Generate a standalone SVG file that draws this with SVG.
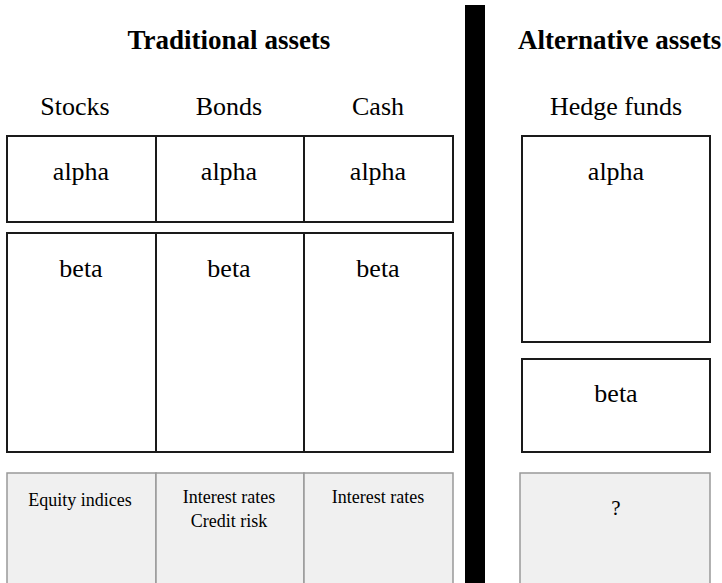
<svg xmlns="http://www.w3.org/2000/svg" width="722" height="583" viewBox="0 0 722 583">
<style>
text{font-family:"Liberation Serif","Times New Roman",serif;fill:#000;text-anchor:middle}
.title{font-size:27px;font-weight:bold}
.lbl{font-size:26px}
.sm{font-size:18px}
.box{fill:#fff;stroke:#1a1a1a;stroke-width:2}
.grey{fill:#f0f0f0;stroke:#999;stroke-width:1.5}
</style>
<rect width="722" height="583" fill="#fff"/>
<g id="headers">
<text class="title" x="229" y="49">Traditional assets</text>
<text class="title" x="518" y="49" style="text-anchor:start">Alternative assets</text>
<text class="lbl" x="75" y="115">Stocks</text>
<text class="lbl" x="229" y="115">Bonds</text>
<text class="lbl" x="378" y="115">Cash</text>
<text class="lbl" x="616" y="115">Hedge funds</text>
</g>
<g id="divider"><rect x="465" y="5" width="20" height="578" fill="#000"/></g>
<g id="stocks">
<rect class="box" x="7" y="136" width="149" height="86"/><text class="lbl" x="81" y="180">alpha</text>
<rect class="box" x="7" y="233" width="149" height="219"/><text class="lbl" x="81" y="277">beta</text>
<rect class="grey" x="7" y="473" width="149" height="115"/><text class="sm" x="80" y="506">Equity indices</text>
</g>
<g id="bonds">
<rect class="box" x="156" y="136" width="148" height="86"/><text class="lbl" x="229" y="180">alpha</text>
<rect class="box" x="156" y="233" width="148" height="219"/><text class="lbl" x="229" y="277">beta</text>
<rect class="grey" x="156" y="473" width="148" height="115"/><text class="sm" x="229" y="503">Interest rates</text><text class="sm" x="229" y="527">Credit risk</text>
</g>
<g id="cash">
<rect class="box" x="304" y="136" width="149" height="86"/><text class="lbl" x="378" y="180">alpha</text>
<rect class="box" x="304" y="233" width="149" height="219"/><text class="lbl" x="378" y="277">beta</text>
<rect class="grey" x="304" y="473" width="149" height="115"/><text class="sm" x="378" y="503">Interest rates</text>
</g>
<g id="hedge">
<rect class="box" x="522" y="136" width="188" height="206"/><text class="lbl" x="616" y="180">alpha</text>
<rect class="box" x="522" y="359" width="188" height="93"/><text class="lbl" x="616" y="402">beta</text>
<rect class="grey" x="520" y="473" width="190" height="115"/><text class="sm" x="616" y="515" style="font-size:21px">?</text>
</g>
<g id="connectors"/>
</svg>
